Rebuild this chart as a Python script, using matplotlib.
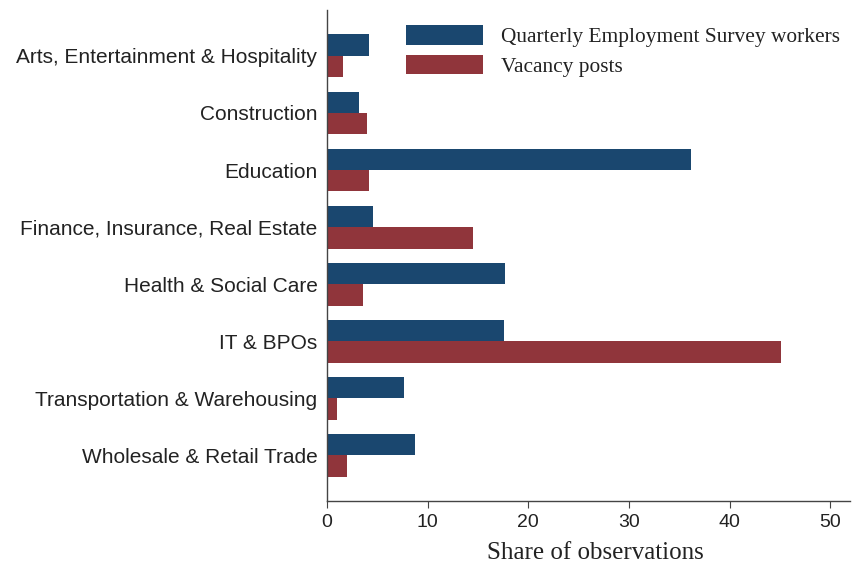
import numpy as np
import matplotlib.pyplot as plt

# sectors, top to bottom
sectors = ["Arts, Entertainment & Hospitality", "Construction", "Education",
           "Finance, Insurance, Real Estate", "Health & Social Care", "IT & BPOs",
           "Transportation & Warehousing", "Wholesale & Retail Trade"]
qes_workers = [4.2, 3.2, 36.2, 4.6, 17.7, 17.6, 7.6, 8.7]
vacancy_posts = [1.6, 4.0, 4.2, 14.5, 3.6, 45.1, 1.0, 2.0]

navy = "#1a476f"
maroon = "#90353b"
txt = "#222222"

fig = plt.figure(figsize=(8.52, 5.65), dpi=100)
ax = fig.add_axes([0.384, 0.113, 0.614, 0.869])

y = np.arange(len(sectors))
h = 0.375
ax.barh(y - h / 2, qes_workers, height=h, color=navy, label="Quarterly Employment Survey workers")
ax.barh(y + h / 2, vacancy_posts, height=h, color=maroon, label="Vacancy posts")

ax.set_ylim(len(sectors) - 0.2, -0.8)
ax.set_xlim(0, 52)
ax.set_yticks(y)
ax.set_yticklabels(sectors, family="Liberation Sans", fontsize=15, color=txt)
ax.set_xticks([0, 10, 20, 30, 40, 50])
ax.set_xticklabels([0, 10, 20, 30, 40, 50], family="Liberation Sans", fontsize=14, color=txt)
ax.tick_params(axis="y", length=0, pad=7)
ax.tick_params(axis="x", length=5, color="#444444", pad=4)
ax.set_xlabel("Share of observations", family="Liberation Serif", fontsize=18, color=txt)
ax.xaxis.set_label_coords(0.513, -0.083)
ax.xaxis.label.set_va("top")

for s in ["top", "right"]:
    ax.spines[s].set_visible(False)
for s in ["left", "bottom"]:
    ax.spines[s].set_color("#444444")
    ax.spines[s].set_linewidth(1)

leg = ax.legend(loc="upper left", bbox_to_anchor=(0.113, 1.008), frameon=False,
                prop={"family": "Liberation Serif", "size": 15.4},
                handlelength=3.6, handleheight=1.0, labelspacing=0.37, handletextpad=0.85)
for t in leg.get_texts():
    t.set_color(txt)

fig.savefig("out.png", dpi=100, facecolor="white")
